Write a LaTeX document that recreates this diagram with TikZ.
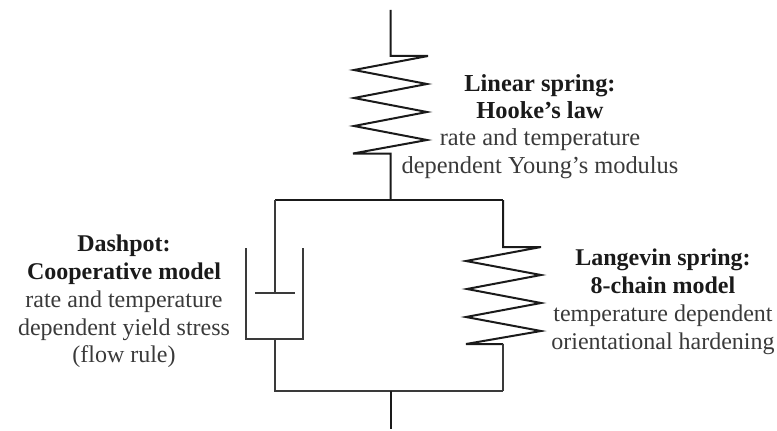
\documentclass[tikz,border=0pt]{standalone}
\usepackage{fontspec}
\setmainfont{Liberation Serif}
\definecolor{ink}{HTML}{1A1A1A}
\definecolor{soft}{HTML}{3A3A3A}
\tikzset{
  mech/.style={draw=ink,line width=1.5pt,line join=miter},
  thin mech/.style={draw=soft,line width=1.35pt},
  lbl/.style={align=center,text=soft,inner sep=0pt,anchor=north},
}
\newcommand{\hd}[1]{{\bfseries\color{ink}#1}}
\begin{document}
\begin{tikzpicture}[x=0.75pt,y=-0.75pt]
\useasboundingbox (0,0) rectangle (777,431);
\coordinate (topend) at (390.5,10);
\coordinate (s1a) at (390.5,56);
\coordinate (s1b) at (390.5,153.5);
\coordinate (topj) at (390.5,200);
\coordinate (tl) at (275,200);
\coordinate (tr) at (503,200);
\coordinate (bl) at (275,391);
\coordinate (br) at (503,391);
\coordinate (botj) at (390.5,391);
\coordinate (botend) at (390.5,429);
\coordinate (s2a) at (503,247);
\coordinate (s2b) at (503,344);
\coordinate (piston) at (275,293);
\coordinate (cupb) at (275,339);
% top spring
\draw[mech] (topend) -- (s1a) -- (428,56) -- (354,70) -- (427,84) -- (354,98) -- (427,112) -- (354,126) -- (427,140) -- (353,153.5) -- (s1b) -- (topj);
% frame
\draw[mech] (tl) -- (tr);
\draw[thin mech] (tl) -- (piston);
\draw[thin mech] (255,293) -- (295,293);
\draw[thin mech] (246,248) -- (246,339) -- (303,339) -- (303,248);
\draw[thin mech] (cupb) -- (bl) -- (br);
\draw[mech] (tr) -- (s2a) -- (541,247) -- (466,261) -- (541,275) -- (467,289) -- (541,303) -- (466,317) -- (541,331) -- (466,344) -- (s2b);
\draw[thin mech] (s2b) -- (br);
\draw[mech] (botj) -- (botend);
% labels
\node[lbl,font=\fontsize{18.3pt}{20.5pt}\selectfont] (lin) at (540,74) {\hd{Linear spring:}\\\hd{Hooke's law}\\rate and temperature\\dependent Young's modulus};
\node[lbl,font=\fontsize{18pt}{20.8pt}\selectfont] (dash) at (124,235) {\hd{Dashpot:}\\\hd{Cooperative model}\\rate and temperature\\dependent yield stress\\(flow rule)};
\node[lbl,font=\fontsize{18pt}{21pt}\selectfont] (lang) at (663,249) {\hd{Langevin spring:}\\\hd{8-chain model}\\temperature dependent\\orientational hardening};
\end{tikzpicture}
\end{document}
